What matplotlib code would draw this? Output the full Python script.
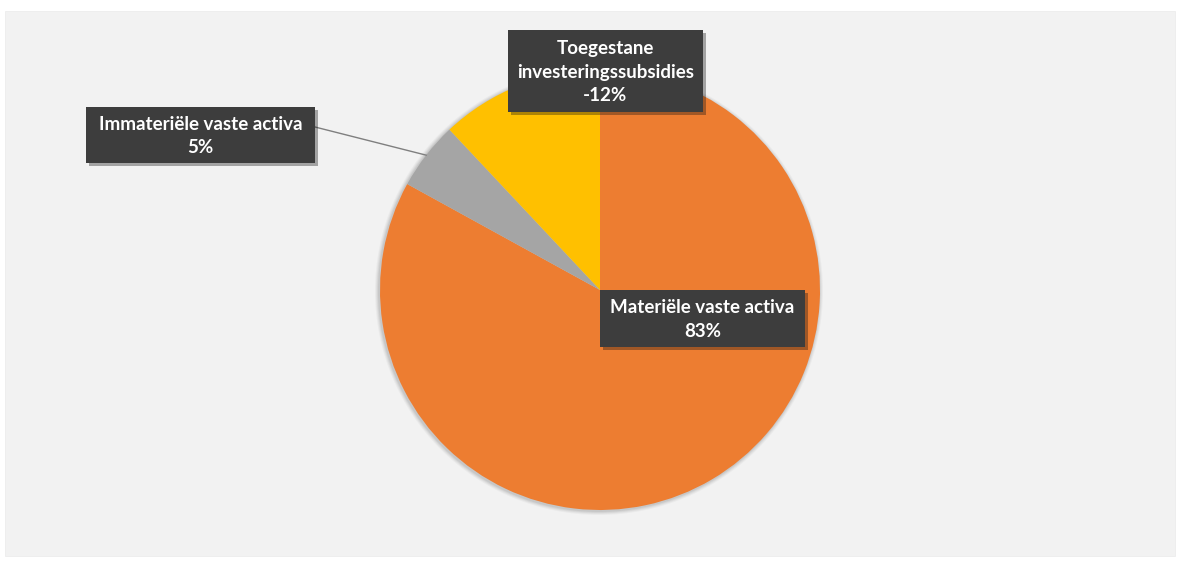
import matplotlib
matplotlib.use("Agg")
import matplotlib.pyplot as plt
import matplotlib.patheffects as pe
from matplotlib.patches import Rectangle, Circle
import numpy as np

categories = ["Materiële vaste activa", "Immateriële vaste activa", "Toegestane\ninvesteringssubsidies"]
values = [83, 5, -12]
colors = ["#ED7D31", "#A5A5A5", "#FFC000"]

W, H = 1181, 561
fig = plt.figure(figsize=(W / 100, H / 100), dpi=100)
fig.patch.set_facecolor("white")
ax = fig.add_axes([0, 0, 1, 1])

cx, cy, r = 600, H - 290, 220
wedges, _ = ax.pie([abs(v) for v in values], colors=colors, startangle=90, counterclock=False,
                   center=(cx, cy), radius=r, frame=True,
                   wedgeprops=dict(linewidth=0, zorder=2))
ax.set_xlim(0, W)
ax.set_ylim(0, H)
ax.set_aspect("equal")
ax.axis("off")

# chart area background
ax.add_patch(Rectangle((5, H - 556), 1170, 545, facecolor="#F2F2F2", edgecolor="#EBEBEB", lw=0.5, zorder=0))
# soft shadow under pie
for k, a in [(4, 0.03), (3, 0.04), (2, 0.05), (1, 0.06)]:
    ax.add_patch(Circle((cx - 1, cy - 1), r + k, facecolor="black", alpha=a, edgecolor="none", zorder=1))

fontprops = dict(family=["Lato", "DejaVu Sans"], weight="bold", fontsize=13.5, color="white")

# label boxes: (center x, center y, width, height) in pixels from top-left
boxes = [(702.5, 318.5, 205, 57), (200.5, 135, 229, 56), (605.5, 71, 195, 82)]
for cat, v, (bx, by, bw, bh) in zip(categories, values, boxes):
    rect = Rectangle((bx - bw / 2, H - by - bh / 2), bw, bh, facecolor="#3D3D3D", edgecolor="none", zorder=5)
    rect.set_path_effects([pe.SimplePatchShadow(offset=(2, -2), alpha=0.35), pe.Normal()])
    ax.add_patch(rect)
    ax.text(bx, H - by - 1, f"{cat}\n{v}%", ha="center", va="center", multialignment="center",
            linespacing=1.45, zorder=6, **fontprops)

# leader line for small slice
w = wedges[1]
mid = np.deg2rad((w.theta1 + w.theta2) / 2)
px, py = cx + r * np.cos(mid), cy + r * np.sin(mid)
ax.plot([315, px], [H - 127, py], color="#7F7F7F", lw=1, zorder=3)

fig.savefig("out.png", dpi=100, facecolor="white")
